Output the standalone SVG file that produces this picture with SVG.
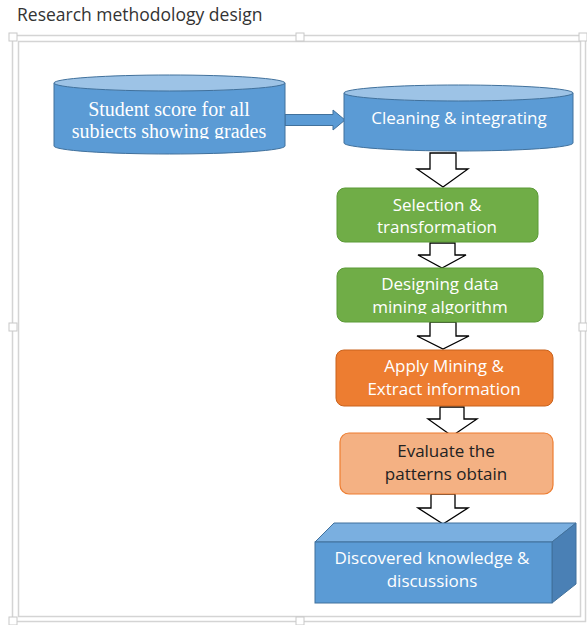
<svg xmlns="http://www.w3.org/2000/svg" width="587" height="625" viewBox="0 0 587 625">
<defs>
<style>
.frame{fill:none;stroke:#d4d4d4;stroke-width:1.5}
.handle{fill:#fff;stroke:#c8c8c8;stroke-width:1}
.cylBody{fill:#5b9bd5;stroke:#41719c;stroke-width:1}
.cylTop{fill:#9dc3e6;stroke:#41719c;stroke-width:1}
.hollow{fill:#fff;stroke:#000;stroke-width:1.3;stroke-linejoin:miter}
.sans{font-family:"Open Sans","Noto Sans","Liberation Sans",sans-serif;font-size:17px;text-anchor:middle}
.serif{font-family:"Liberation Serif","DejaVu Serif",serif;font-size:20px;text-anchor:middle;fill:#fff}
.w{fill:#fff}
</style>
<clipPath id="clip1"><rect x="54" y="95" width="232" height="44"/></clipPath>
<clipPath id="clip2"><rect x="337" y="268" width="206" height="46"/></clipPath>
</defs>
<rect width="587" height="625" fill="#fff"/>
<text x="17" y="21" font-family="Open Sans,Noto Sans,Liberation Sans,sans-serif" font-size="17.5" fill="#333">Research methodology design</text>
<g id="frame">
<rect class="frame" x="12.5" y="35.5" width="573" height="586"/>
<rect class="frame" x="18.5" y="41.5" width="562" height="575"/>
<rect class="handle" x="9" y="33" width="8" height="8"/>
<rect class="handle" x="296" y="33" width="8" height="8"/>
<rect class="handle" x="579" y="33" width="8" height="8"/>
<rect class="handle" x="9" y="323" width="8" height="8"/>
<rect class="handle" x="579" y="323" width="8" height="8"/>
<rect class="handle" x="9" y="617" width="8" height="8"/>
<rect class="handle" x="296" y="617" width="8" height="8"/>
</g>
<g id="connectors">
<path d="M285,114.5 H333 V110 L345,120 L333,130 V125.5 H285 Z" fill="#5b9bd5" stroke="#41719c" stroke-width="1"/>
<path class="hollow" d="M430,153 H456 V169 H468 L443,187 L417,169 H430 Z"/>
<path class="hollow" d="M430,243 H455 V255 H466 L442,268 L418,255 H430 Z"/>
<path class="hollow" d="M430,322 H456 V336 H469 L443,349 L417,336 H430 Z"/>
<path class="hollow" d="M440,407 H464 V419 H477 L452,436 L428,419 H440 Z"/>
<path class="hollow" d="M431,494 H455 V508 H468 L443,524 L418,508 H431 Z"/>
</g>
<g id="student-score">
<path class="cylBody" d="M54,83 V146 A115.5,8 0 0 0 285,146 V83 Z"/>
<ellipse class="cylTop" cx="169.5" cy="83" rx="115.5" ry="8"/>
<g clip-path="url(#clip1)">
<text class="serif" x="169" y="116">Student score for all</text>
<text class="serif" x="169" y="138">subiects showing grades</text>
</g>
</g>
<g id="cleaning">
<path class="cylBody" d="M344,93 V143 A114.5,8 0 0 0 573,143 V93 Z"/>
<ellipse class="cylTop" cx="458.5" cy="93" rx="114.5" ry="8"/>
<text class="sans w" x="459" y="124" font-size="18">Cleaning &amp; integrating</text>
</g>
<g id="selection">
<rect x="337" y="188" width="201" height="54" rx="8" fill="#70ad47" stroke="#5b9a36" stroke-width="1"/>
<text class="sans w" x="437" y="211">Selection &amp;</text>
<text class="sans w" x="437" y="233">transformation</text>
</g>
<g id="designing">
<rect x="337" y="268" width="206" height="54" rx="8" fill="#70ad47" stroke="#5b9a36" stroke-width="1"/>
<g clip-path="url(#clip2)">
<text class="sans w" x="440" y="290">Designing data</text>
<text class="sans w" x="440" y="313">mining algorithm</text>
</g>
</g>
<g id="apply">
<rect x="336" y="350" width="217" height="56" rx="8" fill="#ed7d31" stroke="#c9621c" stroke-width="1"/>
<text class="sans w" x="444" y="372">Apply Mining &amp;</text>
<text class="sans w" x="444" y="395">Extract information</text>
</g>
<g id="evaluate">
<rect x="340" y="433" width="213" height="61" rx="9" fill="#f4b183" stroke="#ed7d31" stroke-width="1.2"/>
<text class="sans" x="446" y="457" fill="#222">Evaluate the</text>
<text class="sans" x="446" y="480" fill="#222">patterns obtain</text>
</g>
<g id="discovered">
<path d="M315,542 L334,523 H576 L552,542 Z" fill="#7aafe0" stroke="#41719c" stroke-width="1"/>
<path d="M552,542 L576,523 V584 L552,603 Z" fill="#4a80b5" stroke="#41719c" stroke-width="1"/>
<rect x="315" y="542" width="237" height="61" fill="#5b9bd5" stroke="#41719c" stroke-width="1"/>
<text class="sans w" x="432" y="564">Discovered knowledge &amp;</text>
<text class="sans w" x="432" y="587">discussions</text>
</g>
</svg>
